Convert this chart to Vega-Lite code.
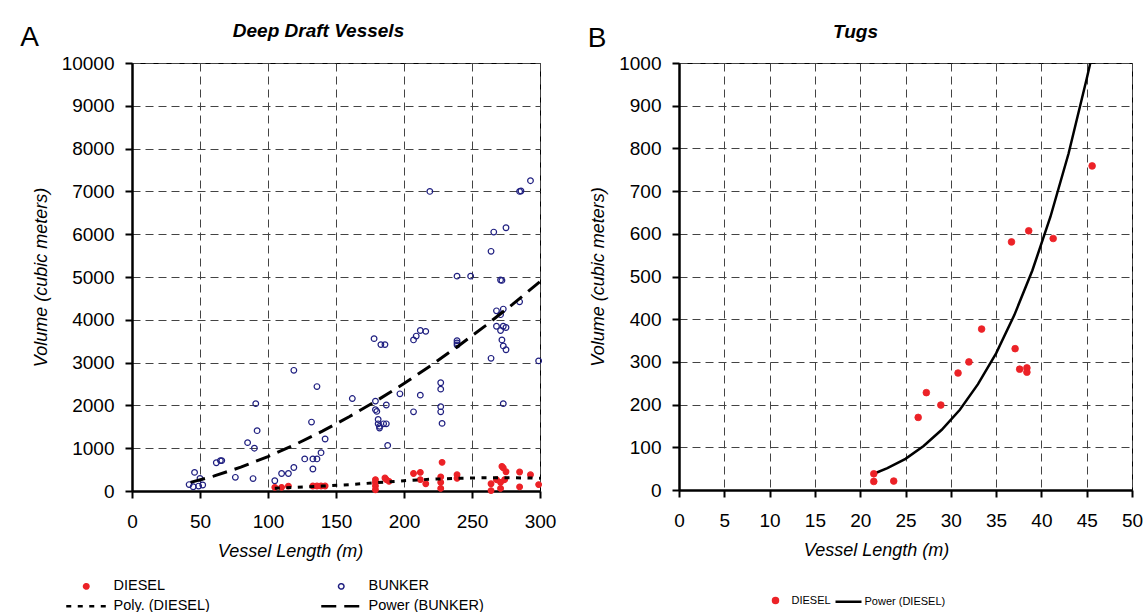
{
  "$schema": "https://vega.github.io/schema/vega-lite/v6.json",
  "padding": {"left": 19, "top": 20, "right": 0, "bottom": 0},
  "config": {
    "font": "Liberation Sans",
    "view": {"stroke": "black", "strokeWidth": 1},
    "axis": {
      "domainColor": "black", "domainWidth": 2.5, "tickColor": "black", "tickWidth": 2, "tickSize": 7,
      "labelFontSize": 19, "labelColor": "black", "labelFlush": false, "labelOverlap": false,
      "titleFontSize": 18, "titleFontStyle": "italic", "titleFontWeight": "normal", "titleColor": "black",
      "gridColor": "#444444", "gridDash": [8, 5], "gridWidth": 1
    },
    "legend": {"labelColor": "black"}
  },
  "datasets": {
    "a_pts": [
      {"series": "BUNKER", "L": 219, "V": 7000}, {"series": "BUNKER", "L": 285, "V": 7000}, {"series": "BUNKER", "L": 286, "V": 7010},
      {"series": "BUNKER", "L": 293, "V": 7250}, {"series": "BUNKER", "L": 275, "V": 6150}, {"series": "BUNKER", "L": 266, "V": 6050},
      {"series": "BUNKER", "L": 264, "V": 5600}, {"series": "BUNKER", "L": 239, "V": 5020}, {"series": "BUNKER", "L": 249, "V": 5020},
      {"series": "BUNKER", "L": 271, "V": 4930}, {"series": "BUNKER", "L": 272, "V": 4920}, {"series": "BUNKER", "L": 285, "V": 4420},
      {"series": "BUNKER", "L": 268, "V": 4210}, {"series": "BUNKER", "L": 273, "V": 4250}, {"series": "BUNKER", "L": 271, "V": 4120},
      {"series": "BUNKER", "L": 268, "V": 3850}, {"series": "BUNKER", "L": 273, "V": 3850}, {"series": "BUNKER", "L": 275, "V": 3820},
      {"series": "BUNKER", "L": 271, "V": 3750}, {"series": "BUNKER", "L": 272, "V": 3530}, {"series": "BUNKER", "L": 273, "V": 3390},
      {"series": "BUNKER", "L": 275, "V": 3300}, {"series": "BUNKER", "L": 264, "V": 3100}, {"series": "BUNKER", "L": 299, "V": 3040},
      {"series": "BUNKER", "L": 273, "V": 2040}, {"series": "BUNKER", "L": 239, "V": 3510}, {"series": "BUNKER", "L": 239, "V": 3460},
      {"series": "BUNKER", "L": 239, "V": 3410}, {"series": "BUNKER", "L": 207, "V": 3530}, {"series": "BUNKER", "L": 209, "V": 3620},
      {"series": "BUNKER", "L": 212, "V": 3750}, {"series": "BUNKER", "L": 216, "V": 3730}, {"series": "BUNKER", "L": 178, "V": 3560},
      {"series": "BUNKER", "L": 183, "V": 3420}, {"series": "BUNKER", "L": 186, "V": 3420}, {"series": "BUNKER", "L": 119, "V": 2820},
      {"series": "BUNKER", "L": 136, "V": 2440}, {"series": "BUNKER", "L": 197, "V": 2270}, {"series": "BUNKER", "L": 162, "V": 2160},
      {"series": "BUNKER", "L": 179, "V": 2100}, {"series": "BUNKER", "L": 212, "V": 2240}, {"series": "BUNKER", "L": 227, "V": 2530},
      {"series": "BUNKER", "L": 227, "V": 2380}, {"series": "BUNKER", "L": 227, "V": 1970}, {"series": "BUNKER", "L": 227, "V": 1850},
      {"series": "BUNKER", "L": 228, "V": 1580}, {"series": "BUNKER", "L": 207, "V": 1850}, {"series": "BUNKER", "L": 91, "V": 2040},
      {"series": "BUNKER", "L": 92, "V": 1410}, {"series": "BUNKER", "L": 85, "V": 1130}, {"series": "BUNKER", "L": 90, "V": 1000},
      {"series": "BUNKER", "L": 89, "V": 290}, {"series": "BUNKER", "L": 76, "V": 320}, {"series": "BUNKER", "L": 62, "V": 660},
      {"series": "BUNKER", "L": 65, "V": 710}, {"series": "BUNKER", "L": 66, "V": 710}, {"series": "BUNKER", "L": 46, "V": 435},
      {"series": "BUNKER", "L": 50, "V": 295}, {"series": "BUNKER", "L": 42, "V": 150}, {"series": "BUNKER", "L": 45, "V": 100},
      {"series": "BUNKER", "L": 49, "V": 115}, {"series": "BUNKER", "L": 52, "V": 140}, {"series": "BUNKER", "L": 132, "V": 1610},
      {"series": "BUNKER", "L": 142, "V": 1215}, {"series": "BUNKER", "L": 139, "V": 895}, {"series": "BUNKER", "L": 127, "V": 750},
      {"series": "BUNKER", "L": 133, "V": 750}, {"series": "BUNKER", "L": 136, "V": 750}, {"series": "BUNKER", "L": 119, "V": 550},
      {"series": "BUNKER", "L": 133, "V": 515}, {"series": "BUNKER", "L": 110, "V": 410}, {"series": "BUNKER", "L": 115, "V": 410},
      {"series": "BUNKER", "L": 105, "V": 240}, {"series": "BUNKER", "L": 179, "V": 1900}, {"series": "BUNKER", "L": 180, "V": 1860},
      {"series": "BUNKER", "L": 187, "V": 2010}, {"series": "BUNKER", "L": 181, "V": 1670}, {"series": "BUNKER", "L": 181, "V": 1570},
      {"series": "BUNKER", "L": 182, "V": 1510}, {"series": "BUNKER", "L": 182, "V": 1470}, {"series": "BUNKER", "L": 185, "V": 1570},
      {"series": "BUNKER", "L": 187, "V": 1570}, {"series": "BUNKER", "L": 188, "V": 1065},
      {"series": "DIESEL", "L": 105, "V": 85}, {"series": "DIESEL", "L": 110, "V": 85}, {"series": "DIESEL", "L": 115, "V": 115},
      {"series": "DIESEL", "L": 133, "V": 117}, {"series": "DIESEL", "L": 136, "V": 117}, {"series": "DIESEL", "L": 139, "V": 117},
      {"series": "DIESEL", "L": 142, "V": 117}, {"series": "DIESEL", "L": 179, "V": 264}, {"series": "DIESEL", "L": 179, "V": 201},
      {"series": "DIESEL", "L": 179, "V": 117}, {"series": "DIESEL", "L": 179, "V": 30}, {"series": "DIESEL", "L": 186, "V": 304},
      {"series": "DIESEL", "L": 187, "V": 264}, {"series": "DIESEL", "L": 189, "V": 226}, {"series": "DIESEL", "L": 207, "V": 410},
      {"series": "DIESEL", "L": 212, "V": 435}, {"series": "DIESEL", "L": 212, "V": 265}, {"series": "DIESEL", "L": 216, "V": 170},
      {"series": "DIESEL", "L": 228, "V": 670}, {"series": "DIESEL", "L": 227, "V": 330}, {"series": "DIESEL", "L": 227, "V": 200},
      {"series": "DIESEL", "L": 227, "V": 60}, {"series": "DIESEL", "L": 239, "V": 380}, {"series": "DIESEL", "L": 239, "V": 295},
      {"series": "DIESEL", "L": 272, "V": 575}, {"series": "DIESEL", "L": 273, "V": 540}, {"series": "DIESEL", "L": 275, "V": 450},
      {"series": "DIESEL", "L": 268, "V": 264}, {"series": "DIESEL", "L": 274, "V": 264}, {"series": "DIESEL", "L": 264, "V": 170},
      {"series": "DIESEL", "L": 271, "V": 201}, {"series": "DIESEL", "L": 271, "V": 61}, {"series": "DIESEL", "L": 264, "V": 10},
      {"series": "DIESEL", "L": 285, "V": 445}, {"series": "DIESEL", "L": 285, "V": 95}, {"series": "DIESEL", "L": 293, "V": 380},
      {"series": "DIESEL", "L": 299, "V": 150}
    ],
    "a_fit": [
      {"series": "Poly. (DIESEL)", "L": 105, "V": 65}, {"series": "Poly. (DIESEL)", "L": 120, "V": 85},
      {"series": "Poly. (DIESEL)", "L": 140, "V": 115}, {"series": "Poly. (DIESEL)", "L": 160, "V": 150},
      {"series": "Poly. (DIESEL)", "L": 180, "V": 195}, {"series": "Poly. (DIESEL)", "L": 200, "V": 240},
      {"series": "Poly. (DIESEL)", "L": 220, "V": 275}, {"series": "Poly. (DIESEL)", "L": 240, "V": 298},
      {"series": "Poly. (DIESEL)", "L": 260, "V": 310}, {"series": "Poly. (DIESEL)", "L": 280, "V": 310},
      {"series": "Poly. (DIESEL)", "L": 300, "V": 298},
      {"series": "Power (BUNKER)", "L": 43, "V": 201}, {"series": "Power (BUNKER)", "L": 60, "V": 347},
      {"series": "Power (BUNKER)", "L": 80, "V": 557}, {"series": "Power (BUNKER)", "L": 100, "V": 804},
      {"series": "Power (BUNKER)", "L": 120, "V": 1085}, {"series": "Power (BUNKER)", "L": 140, "V": 1398},
      {"series": "Power (BUNKER)", "L": 160, "V": 1741}, {"series": "Power (BUNKER)", "L": 180, "V": 2113},
      {"series": "Power (BUNKER)", "L": 200, "V": 2511}, {"series": "Power (BUNKER)", "L": 220, "V": 2938},
      {"series": "Power (BUNKER)", "L": 240, "V": 3389}, {"series": "Power (BUNKER)", "L": 260, "V": 3865},
      {"series": "Power (BUNKER)", "L": 280, "V": 4366}, {"series": "Power (BUNKER)", "L": 300, "V": 4891}
    ],
    "b_pts": [
      {"s": "DIESEL", "L": 21.5, "V": 38}, {"s": "DIESEL", "L": 21.5, "V": 20}, {"s": "DIESEL", "L": 23.7, "V": 21},
      {"s": "DIESEL", "L": 26.4, "V": 170}, {"s": "DIESEL", "L": 27.3, "V": 228}, {"s": "DIESEL", "L": 28.9, "V": 199},
      {"s": "DIESEL", "L": 30.8, "V": 274}, {"s": "DIESEL", "L": 32.0, "V": 300}, {"s": "DIESEL", "L": 33.4, "V": 377},
      {"s": "DIESEL", "L": 37.1, "V": 331}, {"s": "DIESEL", "L": 37.6, "V": 283}, {"s": "DIESEL", "L": 38.4, "V": 286},
      {"s": "DIESEL", "L": 38.4, "V": 276}, {"s": "DIESEL", "L": 36.7, "V": 581}, {"s": "DIESEL", "L": 38.6, "V": 607},
      {"s": "DIESEL", "L": 41.3, "V": 589}, {"s": "DIESEL", "L": 45.6, "V": 759}
    ],
    "b_fit": [
      {"s": "Power (DIESEL)", "L": 21.5, "V": 38}, {"s": "Power (DIESEL)", "L": 23, "V": 51},
      {"s": "Power (DIESEL)", "L": 25, "V": 73}, {"s": "Power (DIESEL)", "L": 27, "V": 103},
      {"s": "Power (DIESEL)", "L": 29, "V": 141}, {"s": "Power (DIESEL)", "L": 31, "V": 188},
      {"s": "Power (DIESEL)", "L": 33, "V": 248}, {"s": "Power (DIESEL)", "L": 35, "V": 320},
      {"s": "Power (DIESEL)", "L": 37, "V": 409}, {"s": "Power (DIESEL)", "L": 39, "V": 514},
      {"s": "Power (DIESEL)", "L": 41, "V": 640}, {"s": "Power (DIESEL)", "L": 43, "V": 788},
      {"s": "Power (DIESEL)", "L": 45, "V": 963}, {"s": "Power (DIESEL)", "L": 45.4, "V": 1000}
    ]
  },
  "spacing": 30,
  "resolve": {
    "scale": {"stroke": "independent", "fill": "independent", "strokeDash": "independent", "shape": "independent"},
    "legend": {"stroke": "independent", "fill": "independent", "strokeDash": "independent", "shape": "independent"}
  },
  "hconcat": [
    {
      "width": 408,
      "height": 428,
      "title": {"text": "A", "anchor": "start", "frame": "bounds", "fontSize": 28, "fontWeight": "normal", "fontStyle": "normal", "color": "black", "dx": -12, "offset": -53, "baseline": "alphabetic"},
      "resolve": {"axis": {"x": "independent"}},
      "layer": [
        {
          "data": {"name": "a_pts"},
          "mark": {"type": "point", "size": 32, "strokeWidth": 1.2, "opacity": 1},
          "encoding": {
            "x": {"field": "L", "type": "quantitative", "scale": {"domain": [0, 300], "nice": false},
                  "axis": {"values": [0, 50, 100, 150, 200, 250, 300], "title": "Vessel Length (m)", "titleX": 158, "labelPadding": 14, "titlePadding": 11, "grid": true}},
            "y": {"field": "V", "type": "quantitative", "scale": {"domain": [0, 10000], "nice": false},
                  "axis": {"values": [0, 1000, 2000, 3000, 4000, 5000, 6000, 7000, 8000, 9000, 10000], "format": "d", "title": "Volume (cubic meters)", "labelPadding": 11, "titlePadding": 11, "grid": true}},
            "stroke": {"field": "series", "type": "nominal",
              "scale": {"domain": ["DIESEL", "Poly. (DIESEL)", "BUNKER", "Power (BUNKER)"], "range": ["#EC2227", "black", "#1F1F80", "black"]},
              "legend": {"title": null, "orient": "none", "legendX": -53, "legendY": 516, "columns": 2, "columnPadding": 108, "rowPadding": 5, "symbolSize": 30, "symbolStrokeWidth": 1.5, "labelOffset": 20, "labelFontSize": 14.5, "labelLimit": 250}},
            "fill": {"field": "series", "type": "nominal",
              "scale": {"domain": ["DIESEL", "Poly. (DIESEL)", "BUNKER", "Power (BUNKER)"], "range": ["#EC2227", "transparent", "transparent", "transparent"]},
              "legend": {"title": null, "orient": "none", "legendX": -53, "legendY": 516, "columns": 2, "columnPadding": 108, "rowPadding": 5, "symbolSize": 30, "symbolStrokeWidth": 1.5, "labelOffset": 20, "labelFontSize": 14.5, "labelLimit": 250}},
            "shape": {"field": "series", "type": "nominal",
              "scale": {"domain": ["DIESEL", "Poly. (DIESEL)", "BUNKER", "Power (BUNKER)"], "range": ["circle", "M-7.3,-0.22H7.3M-7.3,0.22H7.3", "circle", "M-7.3,-0.22H7.3M-7.3,0.22H7.3"]},
              "legend": {"title": null, "orient": "none", "legendX": -53, "legendY": 516, "columns": 2, "columnPadding": 108, "rowPadding": 5, "symbolSize": 30, "symbolStrokeWidth": 1.5, "labelOffset": 20, "labelFontSize": 14.5, "labelLimit": 250}}
          }
        },
        {
          "data": {"name": "a_fit"},
          "mark": {"type": "line", "strokeWidth": 3, "clip": true},
          "encoding": {
            "x": {"field": "L", "type": "quantitative",
                  "axis": {"orient": "top", "title": "Deep Draft Vessels", "labels": false, "ticks": false, "domain": false, "grid": false,
                           "titleFontWeight": "bold", "titleFontStyle": "italic", "titleFontSize": 19, "titlePadding": 23, "titleX": 186}},
            "y": {"field": "V", "type": "quantitative",
                  "axis": {"values": [0, 1000, 2000, 3000, 4000, 5000, 6000, 7000, 8000, 9000, 10000], "format": "d", "title": "Volume (cubic meters)", "labelPadding": 11, "titlePadding": 11, "grid": true}},
            "stroke": {"field": "series", "type": "nominal",
              "scale": {"domain": ["DIESEL", "Poly. (DIESEL)", "BUNKER", "Power (BUNKER)"], "range": ["#EC2227", "black", "#1F1F80", "black"]},
              "legend": {"title": null, "orient": "none", "legendX": -53, "legendY": 516, "columns": 2, "columnPadding": 108, "rowPadding": 5, "symbolSize": 30, "symbolStrokeWidth": 1.5, "labelOffset": 20, "labelFontSize": 14.5, "labelLimit": 250}},
            "strokeDash": {"field": "series", "type": "nominal",
              "scale": {"domain": ["DIESEL", "Poly. (DIESEL)", "BUNKER", "Power (BUNKER)"], "range": [[1, 0], [5, 6.5], [1, 0], [15, 8]]},
              "legend": {"title": null, "orient": "none", "legendX": -53, "legendY": 516, "columns": 2, "columnPadding": 108, "rowPadding": 5, "symbolSize": 30, "symbolStrokeWidth": 1.5, "labelOffset": 20, "labelFontSize": 14.5, "labelLimit": 250}}
          }
        }
      ]
    },
    {
      "width": 453,
      "height": 427,
      "title": {"text": "B", "anchor": "start", "frame": "bounds", "fontSize": 28, "fontWeight": "normal", "fontStyle": "normal", "color": "black", "dx": -2, "offset": -53, "baseline": "alphabetic"},
      "resolve": {"axis": {"x": "independent"}},
      "layer": [
        {
          "data": {"name": "b_fit"},
          "mark": {"type": "line", "strokeWidth": 2.5, "clip": true},
          "encoding": {
            "x": {"field": "L", "type": "quantitative",
                  "axis": {"orient": "top", "title": "Tugs", "labels": false, "ticks": false, "domain": false, "grid": false,
                           "titleFontWeight": "bold", "titleFontStyle": "italic", "titleFontSize": 19, "titlePadding": 22, "titleX": 176}},
            "y": {"field": "V", "type": "quantitative",
                  "axis": {"values": [0, 100, 200, 300, 400, 500, 600, 700, 800, 900, 1000], "format": "d", "title": "Volume (cubic meters)", "labelPadding": 11, "titlePadding": 11, "grid": true}},
            "stroke": {"field": "s", "type": "nominal",
              "scale": {"domain": ["DIESEL", "Power (DIESEL)"], "range": ["#EC2227", "black"]},
              "legend": {"title": null, "orient": "none", "legendX": 91, "legendY": 532, "direction": "horizontal", "columnPadding": -1, "symbolSize": 25, "symbolStrokeWidth": 2.5, "labelOffset": 10.5, "labelFontSize": 11, "labelLimit": 250}}
          }
        },
        {
          "data": {"name": "b_pts"},
          "mark": {"type": "point", "size": 45, "strokeWidth": 0.8, "opacity": 1},
          "encoding": {
            "x": {"field": "L", "type": "quantitative", "scale": {"domain": [0, 50], "nice": false},
                  "axis": {"values": [0, 5, 10, 15, 20, 25, 30, 35, 40, 45, 50], "title": "Vessel Length (m)", "titleX": 197, "labelPadding": 14, "titlePadding": 11, "grid": true}},
            "y": {"field": "V", "type": "quantitative", "scale": {"domain": [0, 1000], "nice": false},
                  "axis": {"values": [0, 100, 200, 300, 400, 500, 600, 700, 800, 900, 1000], "format": "d", "title": "Volume (cubic meters)", "labelPadding": 11, "titlePadding": 11, "grid": true}},
            "stroke": {"field": "s", "type": "nominal",
              "scale": {"domain": ["DIESEL", "Power (DIESEL)"], "range": ["#EC2227", "black"]},
              "legend": {"title": null, "orient": "none", "legendX": 91, "legendY": 532, "direction": "horizontal", "columnPadding": -1, "symbolSize": 25, "symbolStrokeWidth": 2.5, "labelOffset": 10.5, "labelFontSize": 11, "labelLimit": 250}},
            "fill": {"field": "s", "type": "nominal",
              "scale": {"domain": ["DIESEL", "Power (DIESEL)"], "range": ["#EC2227", "transparent"]},
              "legend": {"title": null, "orient": "none", "legendX": 91, "legendY": 532, "direction": "horizontal", "columnPadding": -1, "symbolSize": 25, "symbolStrokeWidth": 2.5, "labelOffset": 10.5, "labelFontSize": 11, "labelLimit": 250}},
            "shape": {"field": "s", "type": "nominal",
              "scale": {"domain": ["DIESEL", "Power (DIESEL)"], "range": ["circle", "M-5.2,0H5.2"]},
              "legend": {"title": null, "orient": "none", "legendX": 91, "legendY": 532, "direction": "horizontal", "columnPadding": -1, "symbolSize": 25, "symbolStrokeWidth": 2.5, "labelOffset": 10.5, "labelFontSize": 11, "labelLimit": 250}}
          }
        }
      ]
    }
  ]
}
